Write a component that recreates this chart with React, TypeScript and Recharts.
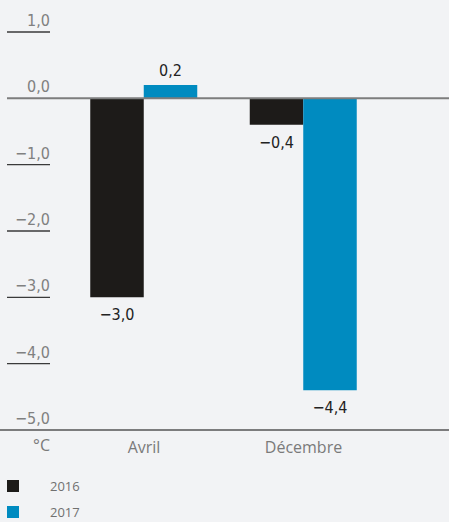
import React from "react";
import { BarChart, Bar, XAxis, YAxis, ReferenceLine, LabelList } from "recharts";

const categories = ["Avril", "Décembre"];
const values2016 = [-3.0, -0.4];
const values2017 = [0.2, -4.4];
const yTicks = [1, 0, -1, -2, -3, -4, -5];
const seriesNames = ["2016", "2017"];
const seriesColors = ["#1d1b19", "#008bc0"];

const data = categories.map((c, i) => ({ name: c, s2016: values2016[i], s2017: values2017[i] }));

const NARROW = '"Liberation Sans Narrow", "DejaVu Sans Condensed", "Open Sans", sans-serif';
const REGULAR = '"Open Sans", "Noto Sans", sans-serif';

const fmt = (v: number) => {
  const s = Math.abs(v).toFixed(1).replace(".", ",");
  return v < 0 ? "\u2212" + s : s;
};

const YTick = (props: any) => {
  const { y, payload } = props;
  const v = payload.value;
  return (
    <g>
      {v !== 0 && v !== -5 && <line x1={7} x2={50} y1={y} y2={y} stroke="#3a3a3a" strokeWidth={1.3} />}
      <text x={50} y={y - 6} textAnchor="end" fill="#808080" fontSize={16} fontFamily={NARROW}>
        {fmt(v)}
      </text>
    </g>
  );
};

const XTick = (props: any) => {
  const { x, y, payload } = props;
  return (
    <text x={x} y={y + 15} textAnchor="middle" fill="#7a7a7a" fontSize={16} fontFamily={REGULAR}>
      {payload.value}
    </text>
  );
};

const ValueLabel = (props: any) => {
  const { x, y, width, height, value } = props;
  const top = Math.min(y, y + height);
  const bottom = Math.max(y, y + height);
  const ty = value >= 0 ? top - 9 : bottom + 23;
  return (
    <text x={x + width / 2} y={ty} textAnchor="middle" fill="#222" fontSize={16} fontFamily={NARROW}>
      {fmt(value)}
    </text>
  );
};

const ZeroLine = (props: any) => {
  const { x2, y1 } = props;
  return <line x1={7} x2={x2} y1={y1} y2={y1} stroke="#7d7d7d" strokeWidth={2} />;
};

const BaseLine = (props: any) => {
  const { x2, y1 } = props;
  return (
    <g>
      <line x1={0} x2={x2} y1={y1} y2={y1} stroke="#555" strokeWidth={1.5} />
      <text x={50} y={y1 + 21} textAnchor="end" fill="#7a7a7a" fontSize={16} fontFamily={REGULAR}>
        °C
      </text>
    </g>
  );
};

export default function App() {
  return (
    <div style={{ position: "absolute", left: 0, top: 0, width: 449, height: 522, background: "#f2f3f5" }}>
      <BarChart
        width={449}
        height={460}
        data={data}
        margin={{ top: 32, right: 0, left: 0, bottom: 0 }}
        barGap={0}
        barSize={53.5}
      >
        <XAxis
          dataKey="name"
          axisLine={false}
          tickLine={false}
          padding={{ left: 14.25, right: 65.75 }}
          tick={<XTick />}
          height={30}
        />
        <YAxis
          domain={[-5, 1]}
          ticks={yTicks}
          width={50}
          axisLine={false}
          tickLine={false}
          tick={<YTick />}
          interval={0}
        />
        <ReferenceLine y={0} shape={<ZeroLine />} />
        <ReferenceLine y={-5} shape={<BaseLine />} />
        <Bar dataKey="s2016" name={seriesNames[0]} fill={seriesColors[0]} isAnimationActive={false}>
          <LabelList dataKey="s2016" content={<ValueLabel />} />
        </Bar>
        <Bar dataKey="s2017" name={seriesNames[1]} fill={seriesColors[1]} isAnimationActive={false}>
          <LabelList dataKey="s2017" content={<ValueLabel />} />
        </Bar>
      </BarChart>
      <div style={{ position: "absolute", left: 0, top: 473 }}>
        {seriesNames.map((n, i) => (
          <div key={n} style={{ display: "flex", alignItems: "center", height: 26 }}>
            <div style={{ width: 12, height: 12, background: seriesColors[i], marginLeft: 7 }} />
            <span style={{ marginLeft: 31, color: "#707070", fontSize: 13, fontFamily: REGULAR }}>{n}</span>
          </div>
        ))}
      </div>
    </div>
  );
}
